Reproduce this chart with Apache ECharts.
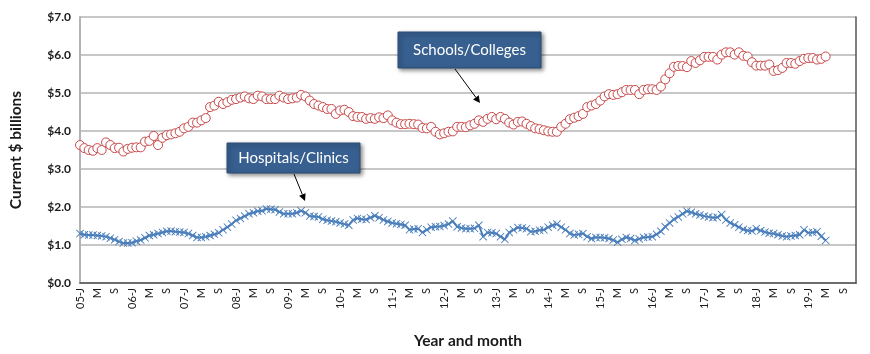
<!DOCTYPE html>
<html>
<head>
    <meta charset="utf-8">
    <script src="https://cdn.jsdelivr.net/npm/echarts@6/dist/echarts.min.js"></script>
    <style>
        html, body { margin: 0; padding: 0; background: #fff; }
        #main { width: 870px; height: 354px; }
    </style>
</head>
<body>
<div id="main"></div>
<script type="text/javascript">
    // axis: monthly categories Jan 2005 .. Dec 2019
    var years = [2005, 2006, 2007, 2008, 2009, 2010, 2011, 2012, 2013, 2014, 2015, 2016, 2017, 2018, 2019];
    var monthLetters = ['J', 'F', 'M', 'A', 'M', 'J', 'J', 'A', 'S', 'O', 'N', 'D'];
    var yTicks = [0, 1, 2, 3, 4, 5, 6, 7];

    // Schools/Colleges, current $ billions (one row per year)
    var schools = [
        3.63, 3.55, 3.50, 3.48, 3.55, 3.50, 3.70, 3.63, 3.55, 3.56, 3.46, 3.53,
        3.56, 3.57, 3.57, 3.72, 3.74, 3.87, 3.63, 3.82, 3.89, 3.91, 3.94, 3.98,
        4.07, 4.11, 4.22, 4.22, 4.28, 4.34, 4.63, 4.67, 4.77, 4.71, 4.76, 4.82,
        4.84, 4.88, 4.91, 4.86, 4.84, 4.93, 4.91, 4.84, 4.84, 4.84, 4.93, 4.88,
        4.84, 4.86, 4.88, 4.95, 4.91, 4.80, 4.71, 4.67, 4.63, 4.58, 4.58, 4.45,
        4.54, 4.56, 4.50, 4.39, 4.37, 4.37, 4.32, 4.34, 4.32, 4.36, 4.34, 4.41,
        4.28, 4.22, 4.18, 4.18, 4.19, 4.18, 4.17, 4.08, 4.07, 4.11, 3.98, 3.91,
        3.94, 3.98, 3.99, 4.11, 4.11, 4.10, 4.15, 4.19, 4.28, 4.24, 4.32, 4.37,
        4.31, 4.37, 4.32, 4.22, 4.17, 4.24, 4.25, 4.19, 4.13, 4.07, 4.05, 4.02,
        3.99, 3.98, 3.98, 4.11, 4.19, 4.31, 4.35, 4.39, 4.45, 4.63, 4.67, 4.71,
        4.80, 4.91, 4.97, 4.95, 4.97, 5.02, 5.08, 5.08, 5.08, 4.97, 5.08, 5.10,
        5.10, 5.08, 5.17, 5.36, 5.52, 5.69, 5.71, 5.71, 5.68, 5.84, 5.79, 5.86,
        5.95, 5.95, 5.95, 5.88, 6.01, 6.07, 6.07, 6.01, 6.07, 5.98, 5.96, 5.81,
        5.72, 5.72, 5.72, 5.75, 5.58, 5.60, 5.66, 5.79, 5.79, 5.77, 5.84, 5.90,
        5.92, 5.92, 5.88, 5.90, 5.96
    ];

    // Hospitals/Clinics, current $ billions (one row per year)
    var hospitals = [
        1.30, 1.27, 1.26, 1.26, 1.25, 1.24, 1.22, 1.18, 1.14, 1.09, 1.05, 1.05,
        1.06, 1.10, 1.13, 1.19, 1.25, 1.27, 1.30, 1.33, 1.36, 1.37, 1.35, 1.34,
        1.33, 1.30, 1.25, 1.20, 1.20, 1.22, 1.25, 1.28, 1.32, 1.40, 1.47, 1.55,
        1.65, 1.70, 1.76, 1.82, 1.85, 1.89, 1.90, 1.95, 1.94, 1.93, 1.87, 1.82,
        1.82, 1.82, 1.85, 1.90, 1.85, 1.76, 1.75, 1.74, 1.68, 1.65, 1.63, 1.61,
        1.58, 1.55, 1.52, 1.66, 1.70, 1.68, 1.67, 1.72, 1.77, 1.72, 1.66, 1.62,
        1.58, 1.56, 1.54, 1.52, 1.40, 1.42, 1.43, 1.33, 1.40, 1.47, 1.48, 1.49,
        1.51, 1.55, 1.63, 1.48, 1.45, 1.43, 1.43, 1.44, 1.52, 1.22, 1.33, 1.32,
        1.30, 1.22, 1.15, 1.33, 1.40, 1.46, 1.45, 1.43, 1.35, 1.36, 1.39, 1.40,
        1.47, 1.52, 1.55, 1.47, 1.40, 1.30, 1.26, 1.28, 1.30, 1.22, 1.17, 1.20,
        1.20, 1.19, 1.17, 1.13, 1.07, 1.15, 1.20, 1.17, 1.12, 1.16, 1.20, 1.21,
        1.22, 1.28, 1.36, 1.48, 1.58, 1.68, 1.74, 1.82, 1.89, 1.86, 1.82, 1.79,
        1.76, 1.74, 1.72, 1.73, 1.80, 1.66, 1.58, 1.53, 1.47, 1.41, 1.38, 1.37,
        1.43, 1.38, 1.34, 1.31, 1.30, 1.27, 1.24, 1.22, 1.24, 1.25, 1.27, 1.40,
        1.32, 1.33, 1.35, 1.23, 1.12
    ];

    var categories = [];
    years.forEach(function (y) {
        monthLetters.forEach(function (m) {
            categories.push(String(y).slice(2) + '-' + m);
        });
    });

    var font = 'Lato, "DejaVu Sans", sans-serif';
    var boxColor = '#375f8f';

    // callout box + arrow
    function callout(text, x, y, w, h, ax1, ay1, ax2, ay2) {
        var ang = Math.atan2(ay2 - ay1, ax2 - ax1);
        var len = 7, wid = 3.5;
        var bx = ax2 - len * Math.cos(ang), by = ay2 - len * Math.sin(ang);
        var px = -Math.sin(ang) * wid, py = Math.cos(ang) * wid;
        return [
            {
                type: 'rect', z: 20,
                shape: {x: x, y: y, width: w, height: h},
                style: {
                    fill: boxColor, stroke: '#2c4d75', lineWidth: 1,
                    shadowBlur: 4, shadowOffsetX: 2, shadowOffsetY: 2, shadowColor: 'rgba(0,0,0,0.45)'
                }
            },
            {
                type: 'text', z: 21,
                style: {
                    text: text, x: x + w / 2, y: y + h / 2, align: 'center', verticalAlign: 'middle',
                    fill: '#fff', font: '15px ' + font
                }
            },
            {
                type: 'line', z: 20,
                shape: {x1: ax1, y1: ay1, x2: bx, y2: by},
                style: {stroke: '#000', lineWidth: 1}
            },
            {
                type: 'polygon', z: 20,
                shape: {points: [[ax2, ay2], [bx + px, by + py], [bx - px, by - py]]},
                style: {fill: '#000'}
            }
        ];
    }

    var myChart = echarts.init(document.getElementById('main'));

    var option = {
        animation: false,
        backgroundColor: '#fff',
        grid: {left: 80, right: 14, top: 17, bottom: 67, containLabel: false},
        xAxis: [
            {
                type: 'category',
                data: categories,
                boundaryGap: false,
                name: 'Year and month',
                nameLocation: 'middle',
                nameGap: 50,
                nameTextStyle: {fontFamily: font, fontWeight: 'bold', fontSize: 15.5, color: '#1a1a1a'},
                axisLine: {lineStyle: {color: '#b4b4b4', width: 2}},
                axisTick: {show: false},
                axisLabel: {
                    rotate: 90,
                    margin: 5,
                    fontFamily: font,
                    fontSize: 11,
                    color: '#1a1a1a',
                    interval: function (i) { return i % 4 === 0; },
                    formatter: function (v, i) { return i % 12 === 0 ? v : v.split('-')[1]; }
                },
                splitLine: {show: false}
            },
            {
                type: 'category',
                data: categories,
                boundaryGap: false,
                position: 'top',
                z: 5,
                axisLine: {lineStyle: {color: '#555', width: 1.5}},
                axisTick: {show: false},
                axisLabel: {show: false},
                splitLine: {show: false}
            }
        ],
        yAxis: [
            {
                type: 'value',
                min: yTicks[0],
                max: yTicks[yTicks.length - 1],
                interval: 1,
                name: 'Current $ billions',
                nameLocation: 'middle',
                nameGap: 56,
                nameTextStyle: {fontFamily: font, fontWeight: 'bold', fontSize: 15.5, color: '#1a1a1a'},
                axisLine: {show: true, lineStyle: {color: '#b4b4b4', width: 2}},
                axisTick: {show: false},
                axisLabel: {
                    margin: 9,
                    fontFamily: font,
                    fontWeight: 'bold',
                    fontSize: 12,
                    color: '#1a1a1a',
                    formatter: function (v) { return '$' + v.toFixed(1); }
                },
                splitLine: {lineStyle: {color: '#b4b4b4', width: 1.5}}
            },
            {
                type: 'value',
                min: yTicks[0],
                max: yTicks[yTicks.length - 1],
                position: 'right',
                z: 5,
                axisLine: {show: true, lineStyle: {color: '#555', width: 1.5}},
                axisTick: {show: false},
                axisLabel: {show: false},
                splitLine: {show: false}
            }
        ],
        series: [
            {
                name: 'Schools/Colleges',
                type: 'line',
                data: schools,
                symbol: 'circle',
                symbolSize: 9,
                showAllSymbol: true,
                itemStyle: {color: '#ffffff', borderColor: '#c8494a', borderWidth: 1},
                lineStyle: {color: '#c8494a', width: 1},
                z: 3
            },
            {
                name: 'Hospitals/Clinics',
                type: 'line',
                data: hospitals,
                symbol: 'path://M0,0.8L0.8,0L5,4.2L9.2,0L10,0.8L5.8,5L10,9.2L9.2,10L5,5.8L0.8,10L0,9.2L4.2,5Z',
                symbolSize: 8,
                showAllSymbol: true,
                itemStyle: {color: '#4a7ebb'},
                lineStyle: {color: '#4a7ebb', width: 2},
                z: 3
            }
        ],
        graphic: callout('Schools/Colleges', 398, 32, 143, 36, 455, 69, 480, 103)
            .concat(callout('Hospitals/Clinics', 227, 143, 133, 30, 294, 174, 305, 201))
    };

    myChart.setOption(option);
</script>
</body>
</html>
